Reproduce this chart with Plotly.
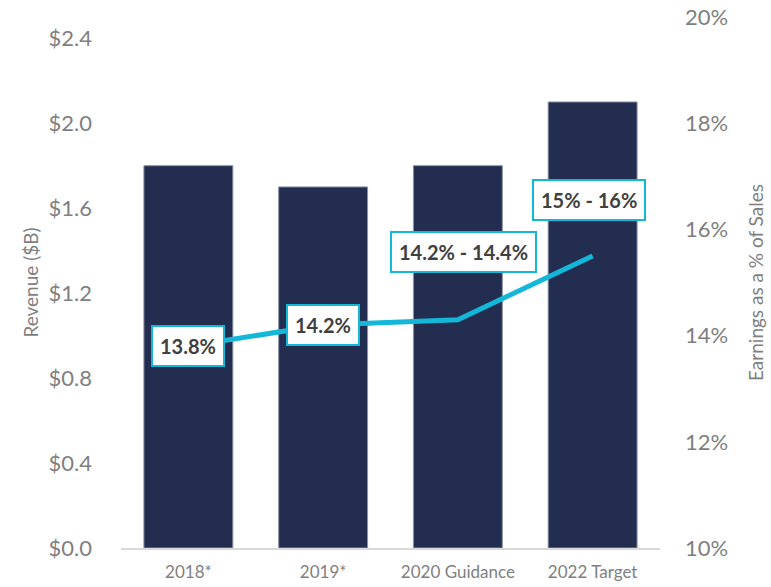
import plotly.graph_objects as go

categories = ["2018*", "2019*", "2020 Guidance", "2022 Target"]
revenue = [1.8, 1.7, 1.8, 2.1]
earnings_pct = [13.8, 14.2, 14.3, 15.5]
earnings_labels = ["13.8%", "14.2%", "14.2% - 14.4%", "15% - 16%"]
left_ticks = [0.0, 0.4, 0.8, 1.2, 1.6, 2.0, 2.4]
left_ticktext = ["$0.0", "$0.4", "$0.8", "$1.2", "$1.6", "$2.0", "$2.4"]
right_ticks = [10, 12, 14, 16, 18, 20]
right_ticktext = ["10%", "12%", "14%", "16%", "18%", "20%"]

label_yshift = [0, 0, 68, 56]
label_xshift = [0, 0, 6, -4]

FONT = "Lato, Open Sans, sans-serif"
GREY = "#7f7f7f"
CYAN = "#14B7D8"

fig = go.Figure()
fig.add_trace(go.Bar(
    x=categories, y=revenue,
    marker=dict(color="#222D50", line=dict(color="#8C93A8", width=1)),
    yaxis="y", showlegend=False,
))
fig.add_trace(go.Scatter(
    x=categories, y=earnings_pct, mode="lines",
    line=dict(color=CYAN, width=5),
    yaxis="y2", showlegend=False,
))

for i, c in enumerate(categories):
    fig.add_annotation(
        x=c, y=earnings_pct[i], xref="x", yref="y2",
        text="<b>" + earnings_labels[i] + "</b>",
        showarrow=False, yshift=label_yshift[i], xshift=label_xshift[i],
        font=dict(family=FONT, size=20, color="#404040"),
        bgcolor="white", bordercolor=CYAN, borderwidth=2, borderpad=7,
    )

fig.update_layout(
    width=771, height=587,
    margin=dict(l=121, r=111, t=17, b=39),
    paper_bgcolor="white", plot_bgcolor="white",
    bargap=0.34,
    font=dict(family=FONT, color=GREY),
    xaxis=dict(
        automargin=False,
        showline=True, linecolor="#d9d9d9", linewidth=1.5,
        showgrid=False, ticks="", tickfont=dict(size=17, color=GREY),
        ticklabelstandoff=8,
    ),
    yaxis=dict(
        automargin=False,
        range=[0, 2.5], tickmode="array", tickvals=left_ticks, ticktext=left_ticktext,
        showgrid=False, zeroline=False, showline=False,
        tickfont=dict(size=22, color=GREY), ticklabelstandoff=28,
        title=dict(text="Revenue ($B)", font=dict(size=19, color=GREY), standoff=4),
    ),
    yaxis2=dict(
        automargin=False,
        range=[10, 20], tickmode="array", tickvals=right_ticks, ticktext=right_ticktext,
        overlaying="y", side="right",
        showgrid=False, zeroline=False, showline=False,
        tickfont=dict(size=22, color=GREY), ticklabelstandoff=24,
        title=dict(text="Earnings as a % of Sales", font=dict(size=19, color=GREY), standoff=22),
    ),
)

fig.write_html("out.html")
